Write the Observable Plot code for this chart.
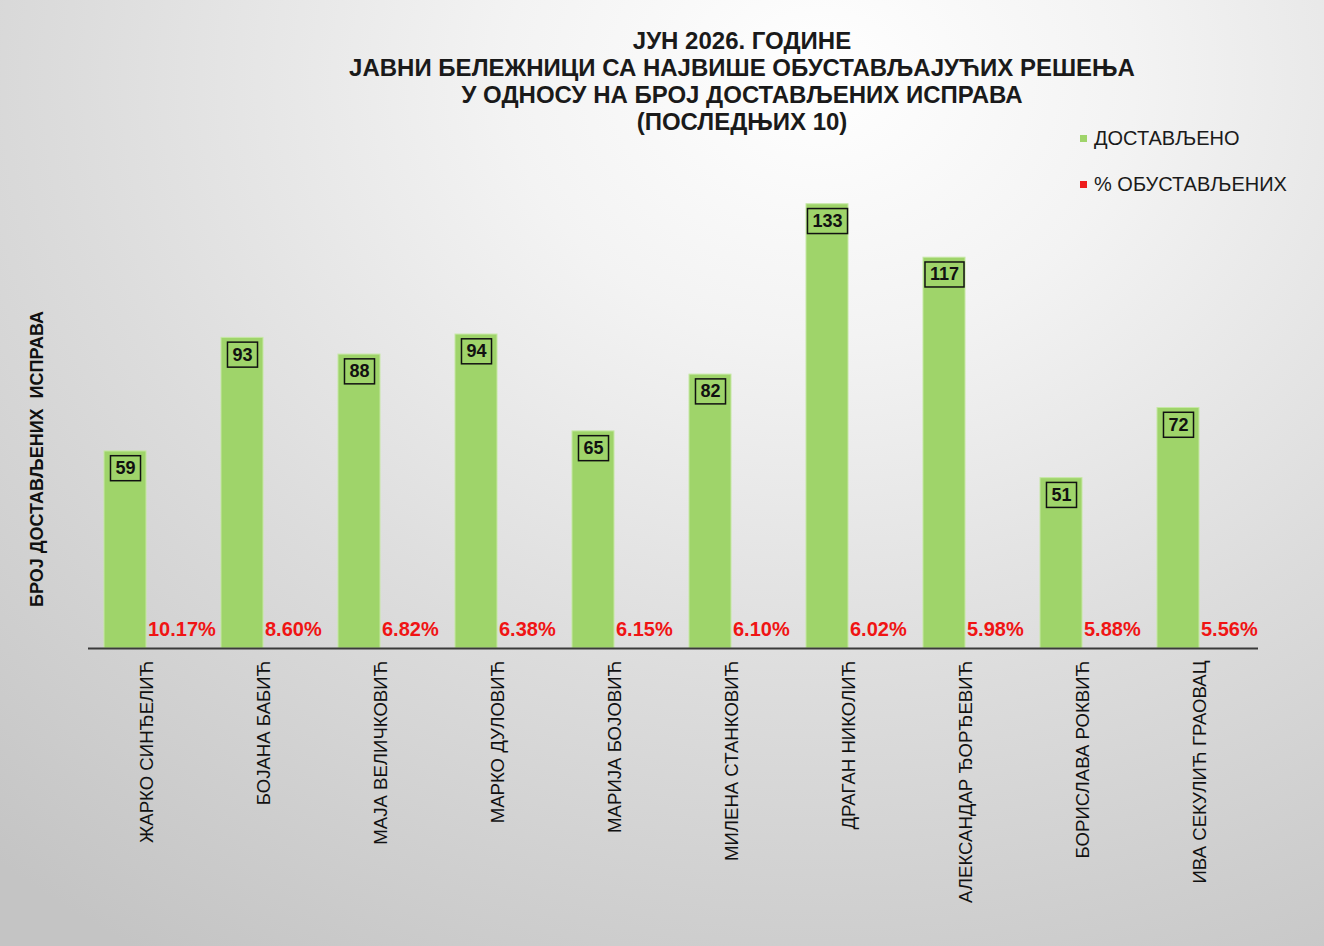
<!DOCTYPE html>
<html>
<head>
<meta charset="utf-8">
<script src="https://cdn.jsdelivr.net/npm/d3@7"></script>
<script src="https://cdn.jsdelivr.net/npm/@observablehq/plot@0.6"></script>
<style>
  html, body { margin: 0; padding: 0; }
  body {
    width: 1324px; height: 946px; overflow: hidden; position: relative;
    background: radial-gradient(ellipse 95% 110% at 62% 8%, #ffffff 0%, #f3f3f3 25%, #dcdcdc 60%, #c4c4c4 100%);
    font-family: "Liberation Sans", Arial, sans-serif;
  }
  #title {
    height: 140px; box-sizing: border-box; padding-top: 27px;
    text-align: center; font-family: "Liberation Sans Narrow", "Liberation Sans", Arial, sans-serif;
    font-weight: bold; font-size: 24px; line-height: 27px; color: #1a1a1a;
    padding-left: 160px; letter-spacing: 0px;
  }
  .legend { position: absolute; left: 1080px; font-family: "Liberation Sans Narrow", "Liberation Sans", Arial, sans-serif; font-size: 20px; color: #1a1a1a; display: flex; align-items: center; }
  .legend i { display: inline-block; width: 7px; height: 7px; margin-right: 7px; }
  #ylabel { position: absolute; left: 37px; top: 459px; transform: translate(-50%, -50%) rotate(-90deg); white-space: pre; font-weight: bold; font-size: 18px; color: #111; }
  #chart { position: absolute; left: 0; top: 140px; }
</style>
</head>
<body>
<div id="title">ЈУН 2026. ГОДИНЕ<br>ЈАВНИ БЕЛЕЖНИЦИ СА НАЈВИШЕ ОБУСТАВЉАЈУЋИХ РЕШЕЊА<br>У ОДНОСУ НА БРОЈ ДОСТАВЉЕНИХ ИСПРАВА<br>(ПОСЛЕДЊИХ 10)</div>
<div class="legend" style="top:127px"><i style="background:#9fd46a"></i>ДОСТАВЉЕНО</div>
<div class="legend" style="top:173px"><i style="background:#ee1c1c"></i>% ОБУСТАВЉЕНИХ</div>
<div id="ylabel">БРОЈ ДОСТАВЉЕНИХ  ИСПРАВА</div>
<div id="chart"></div>
<script>
const names = ["ЖАРКО СИНЂЕЛИЋ", "БОЈАНА БАБИЋ", "МАЈА ВЕЛИЧКОВИЋ", "МАРКО ДУЛОВИЋ", "МАРИЈА БОЈОВИЋ", "МИЛЕНА СТАНКОВИЋ", "ДРАГАН НИКОЛИЋ", "АЛЕКСАНДАР ЂОРЂЕВИЋ", "БОРИСЛАВА РОКВИЋ", "ИВА СЕКУЛИЋ ГРАОВАЦ"];
const delivered = [59, 93, 88, 94, 65, 82, 133, 117, 51, 72];
const suspendedPct = [10.17, 8.60, 6.82, 6.38, 6.15, 6.10, 6.02, 5.98, 5.88, 5.56];

const data = names.map((n, i) => ({name: n, delivered: delivered[i], pct: suspendedPct[i]}));

const plot = Plot.plot({
  width: 1324,
  height: 806,
  marginLeft: 88,
  marginRight: 66,
  marginTop: 7,
  marginBottom: 298,
  style: {background: "transparent", fontFamily: "'Liberation Sans', Arial, sans-serif"},
  x: {domain: names, paddingInner: 0.27, paddingOuter: 0.12, label: null},
  y: {domain: [0, 150], axis: null},
  marks: [
    Plot.axisX({tickSize: 0, tickPadding: 12, tickRotate: -90, fontSize: 18.6, fill: "#111", label: null}),
    Plot.barY(data, {x: "name", y: "delivered", fill: "#9fd46a", stroke: "#c6e8a4", strokeWidth: 1, insetRight: 43}),
    Plot.text(data, {x: "name", y: "delivered", text: d => String(d.delivered), dx: -21.5, dy: 17, fontSize: 18, fontWeight: "bold", fill: "#111", className: "boxed"}),
    Plot.text(data, {x: "name", y: 0, text: d => d.pct.toFixed(2) + "%", textAnchor: "start", dx: 1, dy: -19, fontSize: 20, fontWeight: "bold", fill: "#f01414"}),
    Plot.ruleY([0], {stroke: "#3a3a3a", strokeWidth: 2})
  ]
});
document.getElementById("chart").appendChild(plot);

// draw frames around the value labels
plot.querySelectorAll("g.boxed text").forEach(t => {
  const b = t.getBBox();
  const r = document.createElementNS("http://www.w3.org/2000/svg", "rect");
  const w = Math.max(b.width + 10, 30);
  const h = b.height + 5;
  r.setAttribute("x", b.x + b.width / 2 - w / 2);
  r.setAttribute("y", b.y + b.height / 2 - h / 2);
  r.setAttribute("width", w);
  r.setAttribute("height", h);
  r.setAttribute("fill", "none");
  r.setAttribute("stroke", "#111");
  r.setAttribute("stroke-width", 1.5);
  if (t.getAttribute("transform")) r.setAttribute("transform", t.getAttribute("transform"));
  t.parentNode.insertBefore(r, t);
});
</script>
</body>
</html>
